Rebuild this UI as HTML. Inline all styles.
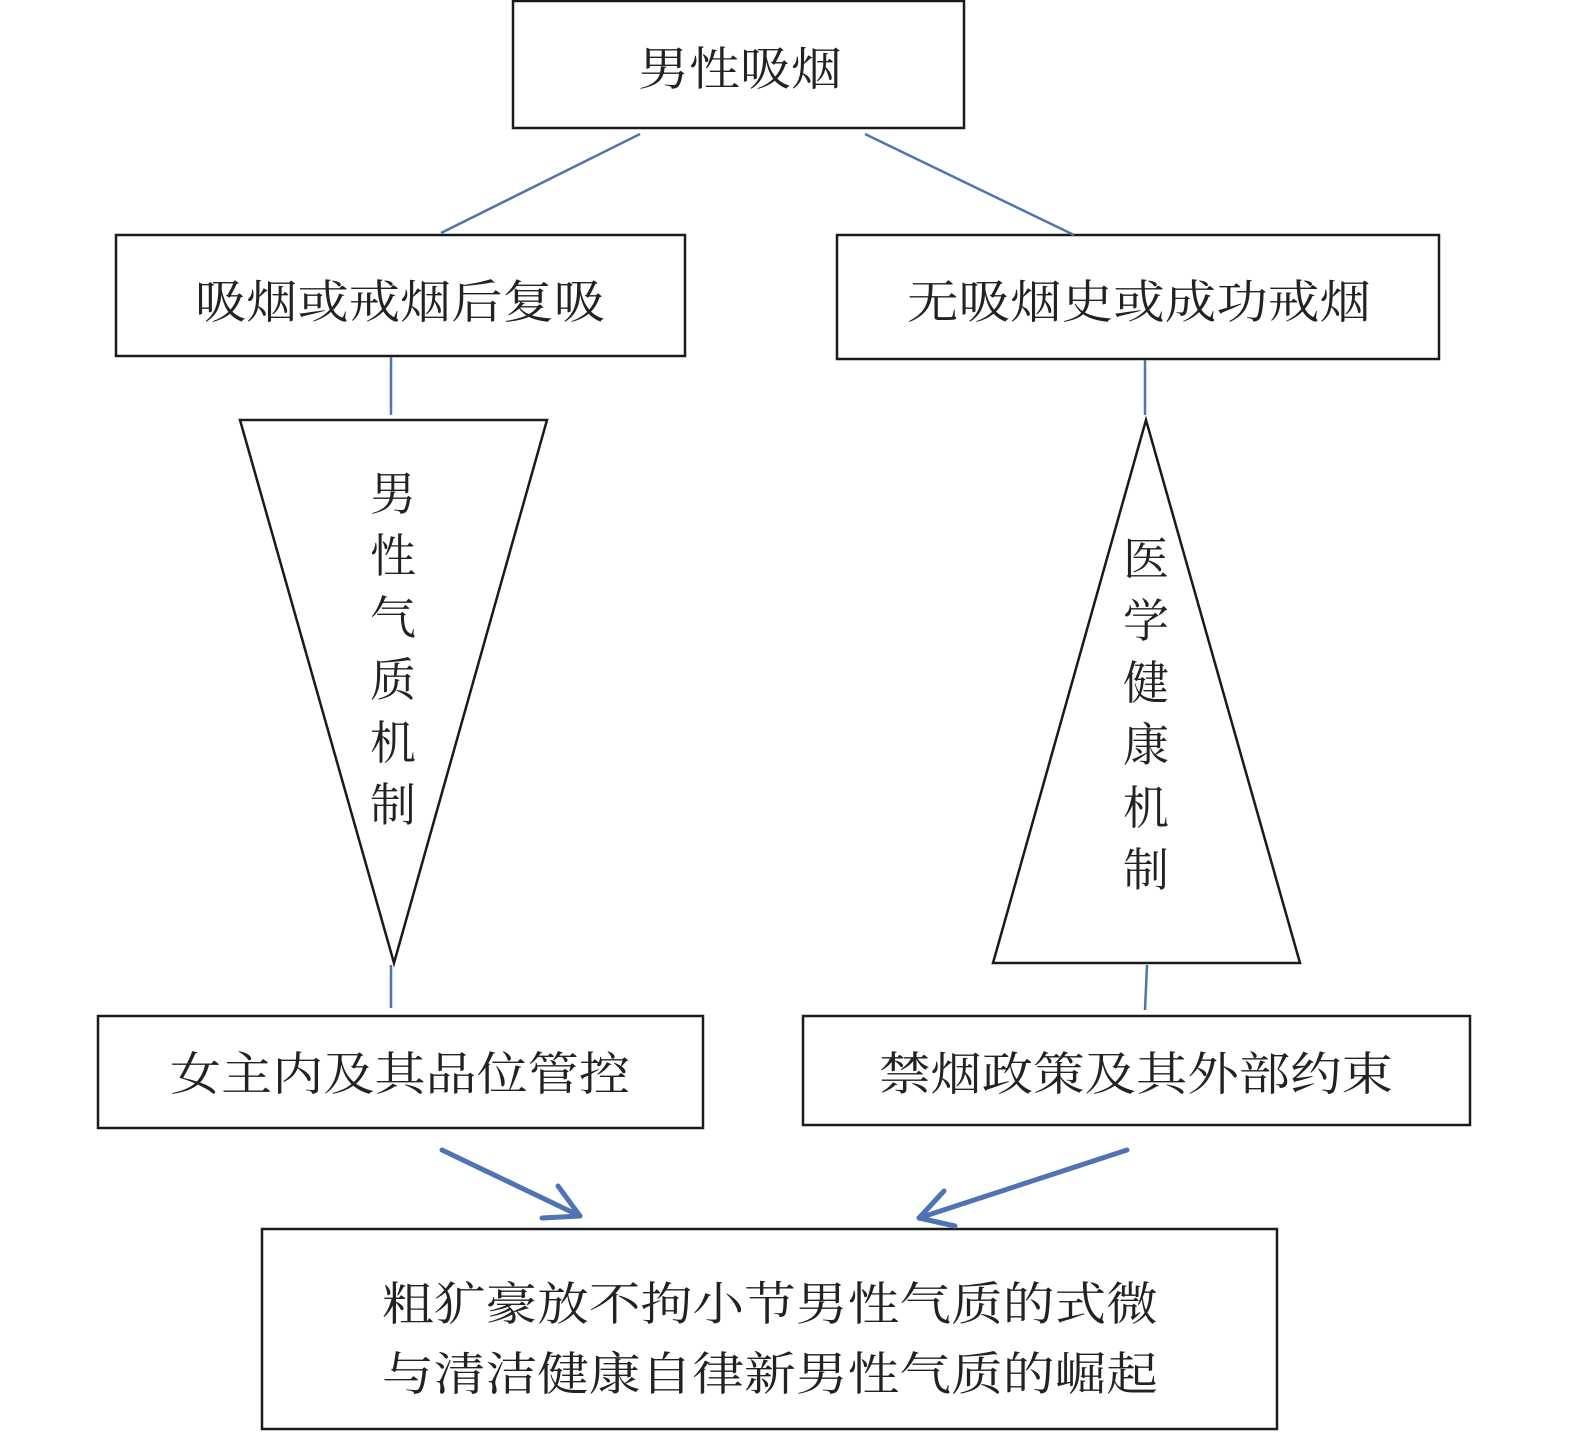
<!DOCTYPE html>
<html><head><meta charset="utf-8"><style>
html,body{margin:0;padding:0;background:#fff;}
svg{display:block;}
text{font-family:"Liberation Serif","Noto Serif CJK SC",serif;font-size:46px;fill:#222;}
</style></head><body>
<svg width="1575" height="1437" viewBox="0 0 1575 1437" xmlns="http://www.w3.org/2000/svg">
<g fill="none" stroke="#1a1a1a" stroke-width="2.5">
<rect x="513" y="1" width="451" height="127"/>
<rect x="116" y="235" width="569" height="121"/>
<rect x="837" y="235" width="602" height="124"/>
<polygon points="240,420 547,420 394,963" stroke-linejoin="miter"/>
<polygon points="1146,420 993,963 1300,963"/>
<rect x="98" y="1016" width="605" height="112"/>
<rect x="803" y="1016" width="667" height="109"/>
<rect x="262" y="1229" width="1015" height="200"/>
</g>
<g fill="none" stroke="#4f73b3" stroke-width="2.5">
<line x1="640" y1="134" x2="441" y2="233"/>
<line x1="865" y1="134" x2="1074" y2="235"/>
<line x1="391" y1="357" x2="391" y2="415"/>
<line x1="1145" y1="360" x2="1145" y2="415"/>
<line x1="391" y1="965" x2="391" y2="1008"/>
<line x1="1147" y1="965" x2="1145" y2="1010"/>
</g>
<g fill="none" stroke="#4f73b3" stroke-width="5" stroke-linecap="round" stroke-linejoin="round">
<line x1="442" y1="1150" x2="580" y2="1216"/>
<polyline points="558,1186 580,1216 542,1218"/>
<line x1="1127" y1="1150" x2="919" y2="1218"/>
<polyline points="944,1191 919,1218 955,1226"/>
</g>
<g text-anchor="middle">
<text x="740" y="85" textLength="204" lengthAdjust="spacingAndGlyphs">男性吸烟</text>
<text x="400" y="318" textLength="410" lengthAdjust="spacingAndGlyphs">吸烟或戒烟后复吸</text>
<text x="1139" y="318" textLength="464" lengthAdjust="spacingAndGlyphs">无吸烟史或成功戒烟</text>
<text x="400" y="1090" textLength="460" lengthAdjust="spacingAndGlyphs">女主内及其品位管控</text>
<text x="1136" y="1090" textLength="514" lengthAdjust="spacingAndGlyphs">禁烟政策及其外部约束</text>
<text x="770" y="1320" textLength="776" lengthAdjust="spacingAndGlyphs">粗犷豪放不拘小节男性气质的式微</text>
<text x="770" y="1390" textLength="776" lengthAdjust="spacingAndGlyphs">与清洁健康自律新男性气质的崛起</text>
<text x="393" y="510">男</text>
<text x="393" y="572">性</text>
<text x="393" y="634">气</text>
<text x="393" y="696">质</text>
<text x="393" y="759">机</text>
<text x="393" y="821">制</text>
<text x="1146" y="575">医</text>
<text x="1146" y="637">学</text>
<text x="1146" y="699">健</text>
<text x="1146" y="761">康</text>
<text x="1146" y="824">机</text>
<text x="1146" y="886">制</text>
</g>
</svg>
</body></html>
